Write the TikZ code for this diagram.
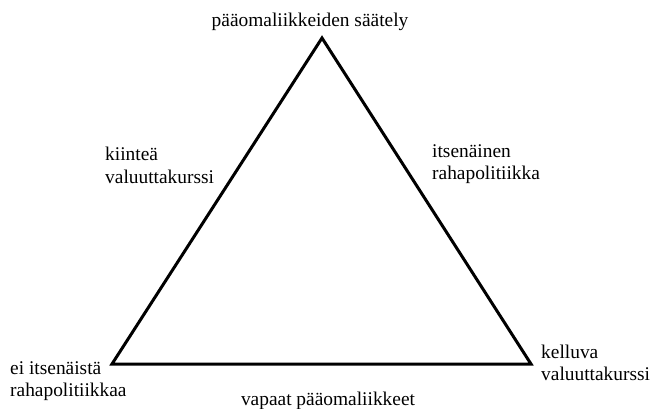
\documentclass[tikz,border=0pt]{standalone}
\usepackage{fontspec}
\setmainfont{Liberation Serif}
\begin{document}
\begin{tikzpicture}[x=1pt,y=-1pt,
  lbl/.style={anchor=base west, align=left, inner sep=0pt, font=\fontsize{19.4}{22}\selectfont}]
  \useasboundingbox (0,0) rectangle (651,409);
  \coordinate (top) at (322,38);
  \coordinate (left) at (112,364);
  \coordinate (right) at (531,364);
  \draw[line width=3pt, line join=miter] (top) -- (right) -- (left) -- cycle;  % triangle
  \node[lbl, anchor=base] (saately) at (310,27) {pääomaliikkeiden säätely};
  \node[lbl] (kiintea) at (105,183) {kiinteä\\valuuttakurssi};
  \node[lbl] (itsenainen) at (432,180) {itsenäinen\\rahapolitiikka};
  \node[lbl] (eiitsen) at (10,396) {ei itsenäistä\\rahapolitiikkaa};
  \node[lbl] (kelluva) at (541,380) {kelluva\\valuuttakurssi};
  \node[lbl, anchor=base] (vapaat) at (328,405) {vapaat pääomaliikkeet};
\end{tikzpicture}
\end{document}
